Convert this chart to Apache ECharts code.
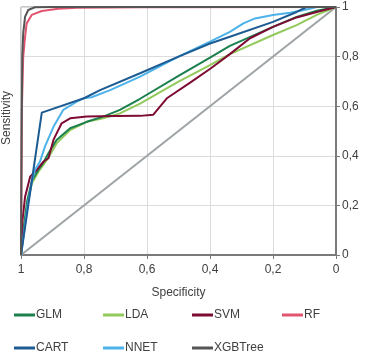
<!DOCTYPE html>
<html>
<head>
<meta charset="utf-8">
<script src="https://cdn.jsdelivr.net/npm/echarts@6/dist/echarts.min.js"></script>
<style>
html,body{margin:0;padding:0;background:#fff;}
#c{width:369px;height:355px;}
</style>
</head>
<body>
<div id="c"></div>
<script>
// [specificity, sensitivity]
const GLM = [[1,0],[0.99,0.12],[0.98,0.22],[0.965,0.3],[0.945,0.343],[0.93,0.37],[0.913,0.41],[0.887,0.464],[0.844,0.511],[0.791,0.537],[0.739,0.558],[0.686,0.585],[0.622,0.63],[0.5,0.722],[0.4,0.796],[0.337,0.843],[0.2,0.92],[0.125,0.96],[0.061,0.985],[0,1]];
const LDA = [[1,0],[0.99,0.12],[0.98,0.21],[0.965,0.29],[0.945,0.335],[0.925,0.37],[0.908,0.403],[0.887,0.45],[0.844,0.504],[0.791,0.537],[0.739,0.551],[0.686,0.571],[0.622,0.61],[0.5,0.699],[0.4,0.766],[0.337,0.81],[0.2,0.887],[0.125,0.927],[0.061,0.968],[0,1]];
const SVM = [[1,0],[0.996,0.13],[0.987,0.235],[0.971,0.316],[0.95,0.343],[0.929,0.376],[0.913,0.39],[0.897,0.464],[0.871,0.531],[0.844,0.551],[0.791,0.558],[0.7,0.56],[0.622,0.561],[0.58,0.566],[0.537,0.632],[0.463,0.695],[0.397,0.753],[0.337,0.81],[0.273,0.874],[0.2,0.92],[0.125,0.958],[0.061,0.98],[0,1]];
const RF = [[1,0],[0.997,0.6],[0.993,0.8],[0.987,0.88],[0.982,0.934],[0.966,0.968],[0.934,0.984],[0.882,0.993],[0.823,0.997],[0.62,0.999],[0,1]];
const CART = [[1,0],[0.934,0.574],[0.8,0.632],[0.749,0.665],[0.622,0.733],[0.5,0.8],[0.4,0.853],[0.337,0.88],[0.2,0.94],[0.125,0.98],[0.093,1],[0,1]];
const NNET = [[1,0],[0.979,0.2],[0.965,0.3],[0.956,0.343],[0.94,0.376],[0.924,0.437],[0.897,0.517],[0.866,0.585],[0.823,0.618],[0.802,0.632],[0.776,0.636],[0.717,0.665],[0.622,0.719],[0.5,0.8],[0.4,0.86],[0.337,0.9],[0.294,0.934],[0.257,0.954],[0.2,0.968],[0.146,0.977],[0.093,0.99],[0.061,1],[0,1]];
const XGBTree = [[1,0],[0.998,0.5],[0.996,0.8],[0.993,0.894],[0.987,0.961],[0.977,0.988],[0.956,0.999],[0.9,1],[0,1]];
const REFLINE = [[1,0],[0,1]];

const names = ['GLM','LDA','SVM','RF','CART','NNET','XGBTree'];
const colors = {GLM:'#1b7f4e', LDA:'#92c95a', SVM:'#7d0b33', RF:'#e2546f', CART:'#1c5c93', NNET:'#4db2ea', XGBTree:'#555555'};
const dataMap = {GLM, LDA, SVM, RF, CART, NNET, XGBTree};
const drawOrder = ['LDA','GLM','SVM','NNET','CART','RF','XGBTree'];

const fmt = v => String(+(+v).toFixed(1)).replace('.', ',');
const FONT = 'Liberation Sans, Arial, sans-serif';

const legendPos = {GLM:[14,309], LDA:[103,309], SVM:[192,309], RF:[282,309], CART:[14,342], NNET:[103,342], XGBTree:[192,342]};
const legends = names.map(n => ({
  data:[n], left:legendPos[n][0], top:legendPos[n][1], padding:0,
  icon:'rect', itemWidth:21, itemHeight:3, selectedMode:false,
  textStyle:{fontFamily:FONT, fontSize:12, color:'#404040', padding:[0,0,0,-4]}
}));

const series = [{
  name:'ref', type:'line', data:REFLINE, symbol:'none', silent:true,
  lineStyle:{color:'#9ea3a6', width:2}, z:1
}].concat(drawOrder.map(n => ({
  name:n, type:'line', data:dataMap[n], symbol:'none',
  lineStyle:{color:colors[n], width:2}, itemStyle:{color:colors[n]}, z:2
})));

const chart = echarts.init(document.getElementById('c'), null, {renderer:'canvas'});
chart.setOption({
  animation:false,
  backgroundColor:'#fff',
  grid:{left:21, right:33, top:7, bottom:100, show:true, borderColor:'#8c8c8c', borderWidth:1},
  legend:legends,
  xAxis:{
    type:'value', min:0, max:1, interval:0.2, inverse:true,
    name:'Specificity', nameLocation:'middle', nameGap:32,
    nameTextStyle:{fontFamily:FONT, fontSize:12, color:'#404040'},
    axisLine:{show:true, lineStyle:{color:'#7a7a7a', width:2}},
    axisTick:{show:true, length:4, lineStyle:{color:'#7a7a7a'}},
    axisLabel:{formatter:fmt, margin:9, fontFamily:FONT, fontSize:12, color:'#404040'},
    splitLine:{show:true, lineStyle:{color:'#dcdcdc', width:1}}
  },
  yAxis:{
    type:'value', min:0, max:1, interval:0.2, position:'right',
    axisLine:{show:true, lineStyle:{color:'#7a7a7a', width:2}},
    axisTick:{show:true, length:4, lineStyle:{color:'#7a7a7a'}},
    axisLabel:{formatter:fmt, margin:6, fontFamily:FONT, fontSize:12, color:'#404040'},
    splitLine:{show:true, lineStyle:{color:'#dcdcdc', width:1}}
  },
  graphic:[{
    type:'text', x:1, y:118, rotation:Math.PI/2,
    style:{text:'Sensitivity', fontFamily:FONT, fontSize:12, fill:'#404040', align:'center', verticalAlign:'top'}
  }],
  series:series
});
</script>
</body>
</html>
